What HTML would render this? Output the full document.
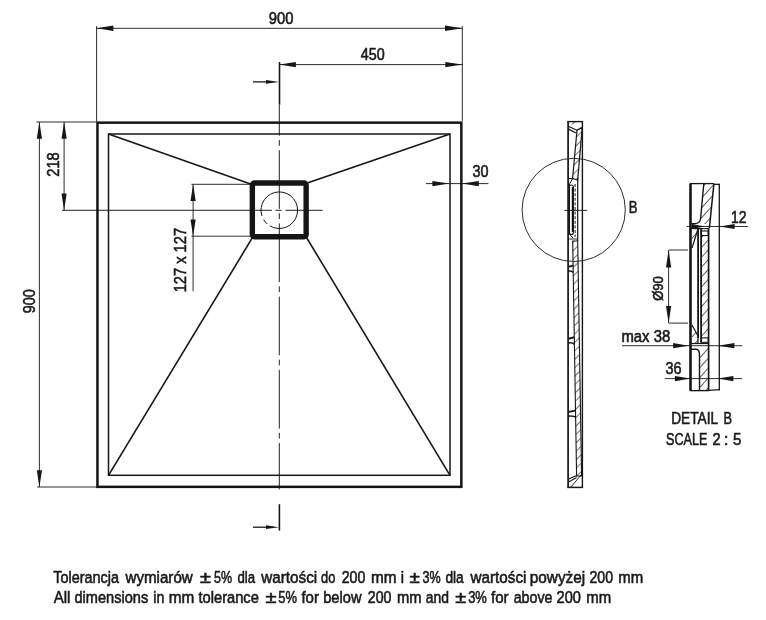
<!DOCTYPE html>
<html><head><meta charset="utf-8"><style>
html,body{margin:0;padding:0;background:#fff;}
svg{display:block;font-family:"Liberation Sans",sans-serif;will-change:transform;}
</style></head><body>
<svg width="766" height="620" viewBox="0 0 766 620">
<rect width="766" height="620" fill="#fff"/>
<rect x="97.45" y="122.65" width="363.9" height="364.2" fill="none" stroke="#161616" stroke-width="2.5"/>
<rect x="108.5" y="134.0" width="341.5" height="341.3" fill="none" stroke="#161616" stroke-width="1.5"/>
<line x1="108.5" y1="134.0" x2="250.6" y2="183.9" stroke="#161616" stroke-width="1.6" />
<line x1="450" y1="134.0" x2="308.0" y2="182.8" stroke="#161616" stroke-width="1.6" />
<line x1="108.5" y1="475.3" x2="252.7" y2="237.2" stroke="#161616" stroke-width="1.6" />
<line x1="450" y1="475.3" x2="306.2" y2="237.0" stroke="#161616" stroke-width="1.6" />
<rect x="252.35" y="182.95" width="53.8" height="53.85" rx="2.2" fill="none" stroke="#161616" stroke-width="5.4"/>
<path d="M261.90,215.86 A18.3,18.3 0 1 1 269.87,225.89" fill="none" stroke="#161616" stroke-width="1.0"/>
<path d="M267.29,224.01 A18.3,18.3 0 0 1 263.61,219.63" fill="none" stroke="#161616" stroke-width="1.0"/>
<line x1="279.3" y1="104.7" x2="279.3" y2="489.4" stroke="#161616" stroke-width="0.95" stroke-dasharray="58.7 4.3 5.8 4.4" stroke-dashoffset="27.7"/>
<line x1="62" y1="210.3" x2="271.9" y2="210.3" stroke="#161616" stroke-width="0.95" />
<line x1="275.6" y1="210.3" x2="281.5" y2="210.3" stroke="#161616" stroke-width="0.95" />
<line x1="285.6" y1="210.3" x2="322.6" y2="210.3" stroke="#161616" stroke-width="0.95" />
<line x1="279.5" y1="62" x2="279.5" y2="104.7" stroke="#161616" stroke-width="1.6" />
<line x1="253" y1="81.9" x2="270" y2="81.9" stroke="#161616" stroke-width="1.3" />
<polygon points="279.00,81.90 266.00,80.00 266.00,83.80" fill="#161616"/>
<line x1="279.4" y1="504.2" x2="279.4" y2="530.6" stroke="#161616" stroke-width="1.6" />
<line x1="252.9" y1="527.2" x2="270" y2="527.2" stroke="#161616" stroke-width="1.3" />
<polygon points="279.00,527.20 266.00,525.30 266.00,529.10" fill="#161616"/>
<line x1="96.6" y1="26" x2="96.6" y2="121" stroke="#161616" stroke-width="0.9" />
<line x1="462.3" y1="26" x2="462.3" y2="121" stroke="#161616" stroke-width="0.9" />
<line x1="96.6" y1="28.3" x2="462.3" y2="28.3" stroke="#161616" stroke-width="0.9" />
<polygon points="96.60,28.30 113.40,25.60 113.40,31.00" fill="#161616"/>
<polygon points="462.30,28.30 445.00,25.60 445.00,31.00" fill="#161616"/>
<text x="268.77" y="23.60" font-size="16.6" textLength="24.65" lengthAdjust="spacingAndGlyphs" fill="#1a1a1a" stroke="#1a1a1a" stroke-width="0.6">900</text>
<line x1="279.5" y1="64.6" x2="462.3" y2="64.6" stroke="#161616" stroke-width="0.9" />
<polygon points="279.50,64.60 295.90,62.00 295.90,67.20" fill="#161616"/>
<polygon points="462.30,64.60 445.30,62.00 445.30,67.20" fill="#161616"/>
<text x="360.72" y="59.60" font-size="16.6" textLength="23.89" lengthAdjust="spacingAndGlyphs" fill="#1a1a1a" stroke="#1a1a1a" stroke-width="0.6">450</text>
<line x1="36.5" y1="122" x2="97" y2="122" stroke="#161616" stroke-width="0.9" />
<line x1="37.2" y1="487" x2="97" y2="487" stroke="#161616" stroke-width="0.9" />
<line x1="39.4" y1="122" x2="39.4" y2="487" stroke="#161616" stroke-width="0.9" />
<polygon points="39.40,122.00 36.80,138.80 42.00,138.80" fill="#161616"/>
<polygon points="39.40,487.00 36.80,470.20 42.00,470.20" fill="#161616"/>
<line x1="64.1" y1="122" x2="64.1" y2="210.3" stroke="#161616" stroke-width="0.9" />
<polygon points="64.10,122.00 61.50,138.80 66.70,138.80" fill="#161616"/>
<polygon points="64.10,210.30 61.50,193.50 66.70,193.50" fill="#161616"/>
<text x="58.90" y="176.72" font-size="16.6" textLength="24.42" lengthAdjust="spacingAndGlyphs" transform="rotate(-90 58.90 176.72)" fill="#1a1a1a" stroke="#1a1a1a" stroke-width="0.6">218</text>
<text x="34.90" y="313.22" font-size="16.6" textLength="24.03" lengthAdjust="spacingAndGlyphs" transform="rotate(-90 34.90 313.22)" fill="#1a1a1a" stroke="#1a1a1a" stroke-width="0.6">900</text>
<line x1="191.4" y1="184.3" x2="250" y2="184.3" stroke="#161616" stroke-width="0.9" />
<line x1="191.4" y1="236.2" x2="250" y2="236.2" stroke="#161616" stroke-width="0.9" />
<line x1="193.1" y1="184.3" x2="193.1" y2="291.2" stroke="#161616" stroke-width="0.9" />
<polygon points="193.10,184.30 190.50,201.10 195.70,201.10" fill="#161616"/>
<polygon points="193.10,236.20 190.50,219.40 195.70,219.40" fill="#161616"/>
<text x="186.50" y="292.36" font-size="16.6" textLength="64.46" lengthAdjust="spacingAndGlyphs" transform="rotate(-90 186.50 292.36)" fill="#1a1a1a" stroke="#1a1a1a" stroke-width="0.6">127 x 127</text>
<line x1="426" y1="183.6" x2="488.4" y2="183.6" stroke="#161616" stroke-width="0.9" />
<polygon points="449.20,183.60 432.40,181.00 432.40,186.20" fill="#161616"/>
<polygon points="462.00,183.60 478.80,181.00 478.80,186.20" fill="#161616"/>
<text x="472.45" y="177.40" font-size="16.6" textLength="16.00" lengthAdjust="spacingAndGlyphs" fill="#1a1a1a" stroke="#1a1a1a" stroke-width="0.6">30</text>
<defs><pattern id="h1" width="6" height="6" patternUnits="userSpaceOnUse" patternTransform="rotate(45)"><line x1="0" y1="0" x2="0" y2="6" stroke="#1a1a1a" stroke-width="1.2"/></pattern><pattern id="h2" width="6.6" height="6.6" patternUnits="userSpaceOnUse" patternTransform="rotate(42)"><line x1="0" y1="0" x2="0" y2="6.6" stroke="#1a1a1a" stroke-width="1.35"/></pattern></defs>
<line x1="568.1" y1="121.6" x2="568.1" y2="487.4" stroke="#161616" stroke-width="1.7" />
<line x1="582.4" y1="121.6" x2="582.4" y2="487.4" stroke="#161616" stroke-width="1.4" />
<line x1="567.3000000000001" y1="121.6" x2="583.1" y2="121.6" stroke="#161616" stroke-width="1.4" />
<line x1="567.3000000000001" y1="487.4" x2="583.1" y2="487.4" stroke="#161616" stroke-width="1.5" />
<line x1="568.1" y1="126.3" x2="577" y2="130.2" stroke="#161616" stroke-width="1.2" />
<line x1="568.1" y1="128.9" x2="576" y2="133" stroke="#161616" stroke-width="1.2" />
<line x1="577" y1="130.2" x2="582.4" y2="127" stroke="#161616" stroke-width="1.0" />
<line x1="572" y1="124.5" x2="574.5" y2="122" stroke="#161616" stroke-width="0.9" />
<polygon points="577,130.2 582.2,127.5 577.7,180 572.6,178.5" fill="url(#h1)" stroke="#161616" stroke-width="1.2"/>
<line x1="568.1" y1="178.5" x2="572.8" y2="178.5" stroke="#161616" stroke-width="1.2" />
<path d="M572.6,178.5 L569.5,184 L569.3,234 L573,238" fill="none" stroke="#161616" stroke-width="1.0"/>
<rect x="569.4" y="185" width="4.0" height="49.5" rx="2" fill="none" stroke="#161616" stroke-width="1.1"/>
<line x1="572.6" y1="187" x2="572.6" y2="232" stroke="#161616" stroke-width="1.7" />
<line x1="575.1" y1="184" x2="575.1" y2="237" stroke="#161616" stroke-width="1.0" stroke-dasharray="3 1.6"/>
<line x1="577.7" y1="178" x2="577.7" y2="241" stroke="#161616" stroke-width="1.2" />
<line x1="568.1" y1="239" x2="577.7" y2="239" stroke="#161616" stroke-width="0.9" />
<line x1="564.2" y1="210.4" x2="587.2" y2="210.4" stroke="#161616" stroke-width="0.9" />
<polygon points="572.7,241 577.7,241 581.6,476 576.6,476" fill="url(#h1)" stroke="#161616" stroke-width="1.1"/>
<path d="M568.1,266.90 Q572.10,266.30 573.16,265.30" fill="none" stroke="#161616" stroke-width="1.9"/>
<path d="M568.1,271.10 Q572.16,270.70 573.16,272.50" fill="none" stroke="#161616" stroke-width="1.6"/>
<path d="M568.1,338.70 Q572.10,338.10 574.35,337.10" fill="none" stroke="#161616" stroke-width="1.9"/>
<path d="M568.1,342.90 Q573.35,342.50 574.35,344.30" fill="none" stroke="#161616" stroke-width="1.6"/>
<path d="M568.1,411.90 Q572.10,411.30 575.56,410.30" fill="none" stroke="#161616" stroke-width="1.9"/>
<path d="M568.1,416.10 Q574.56,415.70 575.56,417.50" fill="none" stroke="#161616" stroke-width="1.6"/>
<line x1="576.6" y1="475.5" x2="568.1" y2="479.3" stroke="#161616" stroke-width="1.2" />
<line x1="576.6" y1="477.5" x2="568.6" y2="482" stroke="#161616" stroke-width="1.2" />
<line x1="581.8" y1="474" x2="571" y2="487" stroke="#161616" stroke-width="0.9" />
<circle cx="573.7" cy="209.9" r="51.6" fill="none" stroke="#222" stroke-width="0.95"/>
<text x="628.85" y="212.60" font-size="16.6" textLength="8.74" lengthAdjust="spacingAndGlyphs" fill="#1a1a1a" stroke="#1a1a1a" stroke-width="0.6">B</text>
<line x1="690.5" y1="183.6" x2="690.5" y2="390.6" stroke="#161616" stroke-width="2.6" />
<line x1="689.8" y1="183.6" x2="714" y2="183.6" stroke="#161616" stroke-width="1.3" />
<line x1="714" y1="184.3" x2="720" y2="184.3" stroke="#161616" stroke-width="1.3" />
<line x1="719.3" y1="184.3" x2="719.3" y2="390.2" stroke="#161616" stroke-width="1.3" />
<line x1="689.8" y1="390.6" x2="709" y2="390.6" stroke="#161616" stroke-width="1.4" />
<line x1="708.6" y1="390.4" x2="719.9" y2="389.6" stroke="#161616" stroke-width="1.3" />
<path d="M703.8,183.6 L713.9,183.6 L709.6,224 L700.2,224 Z" fill="url(#h2)" stroke="none"/>
<path d="M703.8,183.6 L700.6,218.5 Q700,223.6 695,223.6 L690.6,223.6" fill="none" stroke="#161616" stroke-width="1.4"/>
<line x1="713.9" y1="183.6" x2="709.4" y2="228" stroke="#161616" stroke-width="1.5" />
<path d="M692,229 L698,229 L692,248 Z" fill="url(#h2)" stroke="none"/>
<line x1="698" y1="229" x2="692" y2="248" stroke="#161616" stroke-width="1.2" />
<line x1="690.6" y1="228.6" x2="709" y2="228.6" stroke="#161616" stroke-width="1.2" />
<line x1="698.1" y1="229" x2="698.1" y2="338" stroke="#161616" stroke-width="1.8" />
<line x1="701.1" y1="229" x2="701.1" y2="342.5" stroke="#161616" stroke-width="1.8" />
<rect x="701.3" y="231" width="6.9" height="4.5" fill="none" stroke="#161616" stroke-width="1.1"/>
<rect x="701.3" y="235.5" width="7.3" height="102.4" fill="url(#h2)" stroke="none"/>
<line x1="708.6" y1="228" x2="708.6" y2="390.4" stroke="#161616" stroke-width="1.7" />
<rect x="701.3" y="337.9" width="6.9" height="4.4" fill="none" stroke="#161616" stroke-width="1.1"/>
<path d="M692,325 L698,336 L698,343 L692,343 Z" fill="url(#h2)" stroke="none"/>
<line x1="692" y1="325" x2="698" y2="336" stroke="#161616" stroke-width="1.2" />
<line x1="698" y1="336" x2="698" y2="343" stroke="#161616" stroke-width="1.2" />
<line x1="690.6" y1="343.5" x2="708.4" y2="343.5" stroke="#161616" stroke-width="1.2" />
<path d="M690.6,349.3 L696,349.3 Q699.5,349.5 699.5,355 L699.5,390.6" fill="none" stroke="#161616" stroke-width="1.4"/>
<path d="M699.5,352 L703,349.3 L708.6,347 L708.6,390 L699.5,390 Z" fill="url(#h2)" stroke="none"/>
<line x1="686.7" y1="226.5" x2="747.9" y2="226.5" stroke="#161616" stroke-width="0.9" />
<polygon points="705.00,226.50 692.00,224.10 692.00,228.90" fill="#161616"/>
<polygon points="719.60,226.50 734.60,223.90 734.60,229.10" fill="#161616"/>
<text x="731.08" y="222.60" font-size="16.6" textLength="15.52" lengthAdjust="spacingAndGlyphs" fill="#1a1a1a" stroke="#1a1a1a" stroke-width="0.6">12</text>
<line x1="668.9" y1="250" x2="688" y2="250" stroke="#161616" stroke-width="0.9" />
<line x1="668.9" y1="323.1" x2="688" y2="323.1" stroke="#161616" stroke-width="0.9" />
<line x1="668.6" y1="250" x2="668.6" y2="323.1" stroke="#161616" stroke-width="0.9" />
<polygon points="668.60,250.00 666.00,267.50 671.20,267.50" fill="#161616"/>
<polygon points="668.60,323.10 666.00,306.10 671.20,306.10" fill="#161616"/>
<text x="663.20" y="300.80" font-size="15" textLength="24.66" lengthAdjust="spacingAndGlyphs" transform="rotate(-90 663.20 300.80)" fill="#1a1a1a" stroke="#1a1a1a" stroke-width="0.6">&#216;90</text>
<line x1="622" y1="345.7" x2="742.2" y2="345.7" stroke="#161616" stroke-width="0.9" />
<polygon points="688.60,345.70 673.10,343.10 673.10,348.30" fill="#161616"/>
<polygon points="717.90,345.70 734.40,343.10 734.40,348.30" fill="#161616"/>
<text x="621.40" y="341.60" font-size="16.6" textLength="48.79" lengthAdjust="spacingAndGlyphs" fill="#1a1a1a" stroke="#1a1a1a" stroke-width="0.6">max 38</text>
<line x1="664.8" y1="378.6" x2="742" y2="378.6" stroke="#161616" stroke-width="0.9" />
<polygon points="690.40,378.60 674.90,376.00 674.90,381.20" fill="#161616"/>
<polygon points="717.90,378.60 733.40,376.00 733.40,381.20" fill="#161616"/>
<text x="665.44" y="373.60" font-size="16.6" textLength="16.10" lengthAdjust="spacingAndGlyphs" fill="#1a1a1a" stroke="#1a1a1a" stroke-width="0.6">36</text>
<text x="671.21" y="424.30" font-size="16.6" textLength="46.99" lengthAdjust="spacingAndGlyphs" fill="#1a1a1a" stroke="#1a1a1a" stroke-width="0.6">DETAIL</text>
<text x="723.38" y="424.30" font-size="16.6" textLength="8.50" lengthAdjust="spacingAndGlyphs" fill="#1a1a1a" stroke="#1a1a1a" stroke-width="0.6">B</text>
<text x="666.10" y="445.20" font-size="16.6" textLength="41.23" lengthAdjust="spacingAndGlyphs" fill="#1a1a1a" stroke="#1a1a1a" stroke-width="0.6">SCALE</text>
<text x="712.49" y="445.20" font-size="16.6" textLength="8.09" lengthAdjust="spacingAndGlyphs" fill="#1a1a1a" stroke="#1a1a1a" stroke-width="0.6">2</text>
<text x="723.70" y="445.20" font-size="16.6" textLength="4.72" lengthAdjust="spacingAndGlyphs" fill="#1a1a1a" stroke="#1a1a1a" stroke-width="0.6">:</text>
<text x="733.03" y="445.20" font-size="16.6" textLength="8.37" lengthAdjust="spacingAndGlyphs" fill="#1a1a1a" stroke="#1a1a1a" stroke-width="0.6">5</text>
<text x="53.22" y="582.60" font-size="16.8" textLength="65.72" lengthAdjust="spacingAndGlyphs" fill="#1a1a1a" stroke="#1a1a1a" stroke-width="0.6">Tolerancja</text>
<text x="125.56" y="582.60" font-size="16.8" textLength="67.16" lengthAdjust="spacingAndGlyphs" fill="#1a1a1a" stroke="#1a1a1a" stroke-width="0.6">wymiar&#243;w</text>
<text x="200.07" y="582.60" font-size="16.8" textLength="10.90" lengthAdjust="spacingAndGlyphs" fill="#1a1a1a" stroke="#1a1a1a" stroke-width="0.6">&#177;</text>
<text x="213.98" y="582.60" font-size="16.8" textLength="18.02" lengthAdjust="spacingAndGlyphs" fill="#1a1a1a" stroke="#1a1a1a" stroke-width="0.6">5%</text>
<text x="237.39" y="582.60" font-size="16.8" textLength="17.67" lengthAdjust="spacingAndGlyphs" fill="#1a1a1a" stroke="#1a1a1a" stroke-width="0.6">dla</text>
<text x="261.26" y="582.60" font-size="16.8" textLength="55.90" lengthAdjust="spacingAndGlyphs" fill="#1a1a1a" stroke="#1a1a1a" stroke-width="0.6">warto&#347;ci</text>
<text x="321.00" y="582.60" font-size="16.8" textLength="14.31" lengthAdjust="spacingAndGlyphs" fill="#1a1a1a" stroke="#1a1a1a" stroke-width="0.6">do</text>
<text x="341.70" y="582.60" font-size="16.8" textLength="23.60" lengthAdjust="spacingAndGlyphs" fill="#1a1a1a" stroke="#1a1a1a" stroke-width="0.6">200</text>
<text x="370.88" y="582.60" font-size="16.8" textLength="25.57" lengthAdjust="spacingAndGlyphs" fill="#1a1a1a" stroke="#1a1a1a" stroke-width="0.6">mm</text>
<text x="400.66" y="582.60" font-size="16.8" textLength="3.25" lengthAdjust="spacingAndGlyphs" fill="#1a1a1a" stroke="#1a1a1a" stroke-width="0.6">i</text>
<text x="409.58" y="582.60" font-size="16.8" textLength="10.27" lengthAdjust="spacingAndGlyphs" fill="#1a1a1a" stroke="#1a1a1a" stroke-width="0.6">&#177;</text>
<text x="422.58" y="582.60" font-size="16.8" textLength="18.12" lengthAdjust="spacingAndGlyphs" fill="#1a1a1a" stroke="#1a1a1a" stroke-width="0.6">3%</text>
<text x="445.38" y="582.60" font-size="16.8" textLength="18.37" lengthAdjust="spacingAndGlyphs" fill="#1a1a1a" stroke="#1a1a1a" stroke-width="0.6">dla</text>
<text x="470.56" y="582.60" font-size="16.8" textLength="55.90" lengthAdjust="spacingAndGlyphs" fill="#1a1a1a" stroke="#1a1a1a" stroke-width="0.6">warto&#347;ci</text>
<text x="529.78" y="582.60" font-size="16.8" textLength="55.46" lengthAdjust="spacingAndGlyphs" fill="#1a1a1a" stroke="#1a1a1a" stroke-width="0.6">powy&#380;ej</text>
<text x="589.50" y="582.60" font-size="16.8" textLength="23.50" lengthAdjust="spacingAndGlyphs" fill="#1a1a1a" stroke="#1a1a1a" stroke-width="0.6">200</text>
<text x="618.30" y="582.60" font-size="16.8" textLength="24.93" lengthAdjust="spacingAndGlyphs" fill="#1a1a1a" stroke="#1a1a1a" stroke-width="0.6">mm</text>
<text x="53.65" y="602.50" font-size="16.8" textLength="16.65" lengthAdjust="spacingAndGlyphs" fill="#1a1a1a" stroke="#1a1a1a" stroke-width="0.6">All</text>
<text x="74.46" y="602.50" font-size="16.8" textLength="73.79" lengthAdjust="spacingAndGlyphs" fill="#1a1a1a" stroke="#1a1a1a" stroke-width="0.6">dimensions</text>
<text x="153.23" y="602.50" font-size="16.8" textLength="11.07" lengthAdjust="spacingAndGlyphs" fill="#1a1a1a" stroke="#1a1a1a" stroke-width="0.6">in</text>
<text x="168.78" y="602.50" font-size="16.8" textLength="25.57" lengthAdjust="spacingAndGlyphs" fill="#1a1a1a" stroke="#1a1a1a" stroke-width="0.6">mm</text>
<text x="198.50" y="602.50" font-size="16.8" textLength="60.38" lengthAdjust="spacingAndGlyphs" fill="#1a1a1a" stroke="#1a1a1a" stroke-width="0.6">tolerance</text>
<text x="265.46" y="602.50" font-size="16.8" textLength="11.01" lengthAdjust="spacingAndGlyphs" fill="#1a1a1a" stroke="#1a1a1a" stroke-width="0.6">&#177;</text>
<text x="278.27" y="602.50" font-size="16.8" textLength="18.73" lengthAdjust="spacingAndGlyphs" fill="#1a1a1a" stroke="#1a1a1a" stroke-width="0.6">5%</text>
<text x="301.39" y="602.50" font-size="16.8" textLength="17.56" lengthAdjust="spacingAndGlyphs" fill="#1a1a1a" stroke="#1a1a1a" stroke-width="0.6">for</text>
<text x="323.21" y="602.50" font-size="16.8" textLength="38.26" lengthAdjust="spacingAndGlyphs" fill="#1a1a1a" stroke="#1a1a1a" stroke-width="0.6">below</text>
<text x="367.80" y="602.50" font-size="16.8" textLength="23.60" lengthAdjust="spacingAndGlyphs" fill="#1a1a1a" stroke="#1a1a1a" stroke-width="0.6">200</text>
<text x="397.00" y="602.50" font-size="16.8" textLength="24.61" lengthAdjust="spacingAndGlyphs" fill="#1a1a1a" stroke="#1a1a1a" stroke-width="0.6">mm</text>
<text x="425.77" y="602.50" font-size="16.8" textLength="23.15" lengthAdjust="spacingAndGlyphs" fill="#1a1a1a" stroke="#1a1a1a" stroke-width="0.6">and</text>
<text x="455.27" y="602.50" font-size="16.8" textLength="10.90" lengthAdjust="spacingAndGlyphs" fill="#1a1a1a" stroke="#1a1a1a" stroke-width="0.6">&#177;</text>
<text x="468.17" y="602.50" font-size="16.8" textLength="18.73" lengthAdjust="spacingAndGlyphs" fill="#1a1a1a" stroke="#1a1a1a" stroke-width="0.6">3%</text>
<text x="491.09" y="602.50" font-size="16.8" textLength="17.56" lengthAdjust="spacingAndGlyphs" fill="#1a1a1a" stroke="#1a1a1a" stroke-width="0.6">for</text>
<text x="513.67" y="602.50" font-size="16.8" textLength="38.79" lengthAdjust="spacingAndGlyphs" fill="#1a1a1a" stroke="#1a1a1a" stroke-width="0.6">above</text>
<text x="556.59" y="602.50" font-size="16.8" textLength="24.33" lengthAdjust="spacingAndGlyphs" fill="#1a1a1a" stroke="#1a1a1a" stroke-width="0.6">200</text>
<text x="586.20" y="602.50" font-size="16.8" textLength="24.93" lengthAdjust="spacingAndGlyphs" fill="#1a1a1a" stroke="#1a1a1a" stroke-width="0.6">mm</text>
</svg></body></html>
